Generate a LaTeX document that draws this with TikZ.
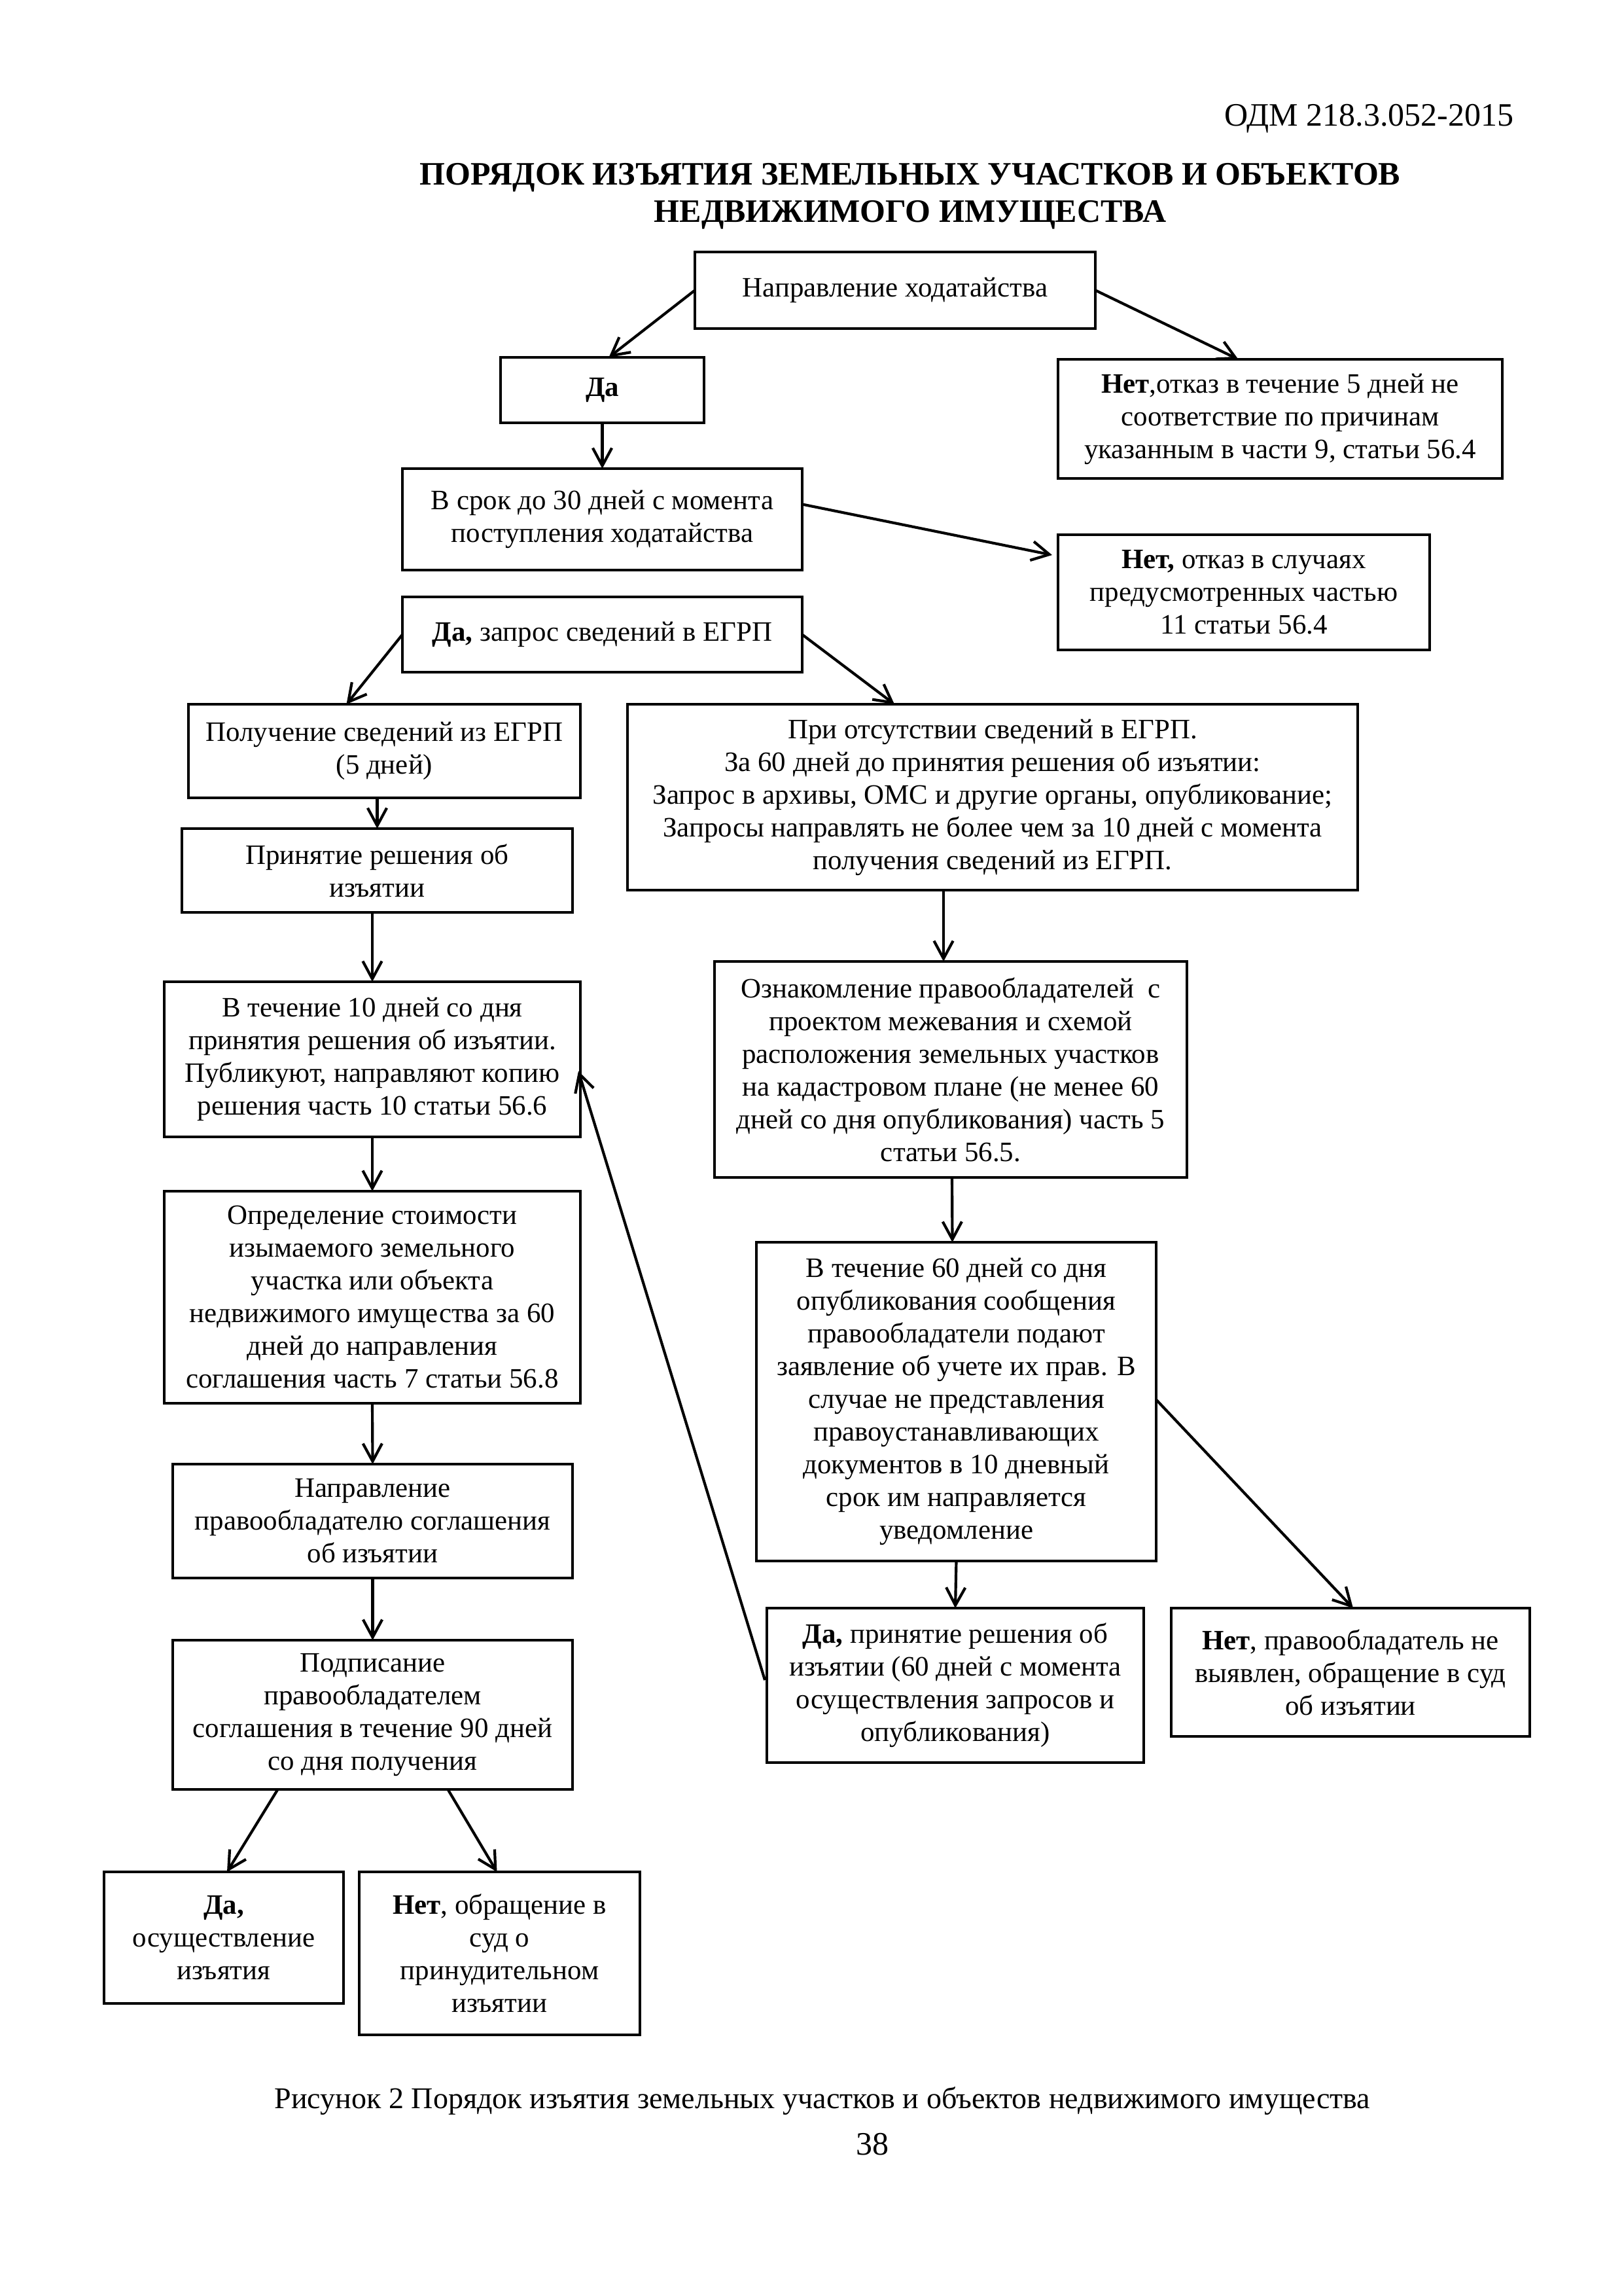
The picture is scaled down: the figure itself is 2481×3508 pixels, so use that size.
\documentclass[tikz,border=0pt]{standalone}
\usepackage{fontspec}
\setmainfont{Liberation Serif}
\usetikzlibrary{arrows.meta,calc}
\begin{document}
\begin{tikzpicture}[x=0.24pt,y=-0.24pt,
  bx/.style={draw, line width=0.8pt, inner sep=0pt, outer sep=0pt, align=center, font=\fontsize{10.3}{12}\selectfont},
  arr/.style={line width=1pt, -{Straight Barb[length=6.5pt,width=7pt]}},
  txt/.style={inner sep=0pt, font=\fontsize{12}{13.7}\selectfont}]
\useasboundingbox (0,0) rectangle (2481,3508);

% header, title, caption
\node[txt, anchor=base east] (hdr) at (2314,193) {ОДМ 218.3.052-2015};
\node[txt, anchor=base, font=\fontsize{12}{13.7}\selectfont\bfseries] (title1) at (1391,283) {ПОРЯДОК ИЗЪЯТИЯ ЗЕМЕЛЬНЫХ УЧАСТКОВ И ОБЪЕКТОВ};
\node[txt, anchor=base, font=\fontsize{12}{13.7}\selectfont\bfseries] (title2) at (1391,340) {НЕДВИЖИМОГО ИМУЩЕСТВА};
\node[txt, anchor=base, font=\fontsize{11.05}{13}\selectfont] (caption) at (1257,3221) {Рисунок 2 Порядок изъятия земельных участков и объектов недвижимого имущества};
\node[txt, anchor=base] (pagenum) at (1333,3292) {38};

% boxes
\node[bx, minimum width=146.88pt, minimum height=28.08pt] (hod) at (1368,443.5) {Направление ходатайства};
\node[bx, minimum width=74.64pt, minimum height=24pt] (da1) at (920.5,596) {\textbf{Да}};
\node[bx, minimum width=162.96pt, minimum height=43.68pt] (net1) at (1956.5,640) {\textbf{Нет},отказ в течение 5 дней не\\соответствие по причинам\\указанным в части 9, статьи 56.4};
\node[bx, minimum width=146.64pt, minimum height=37.2pt] (srok) at (920.5,793.5) {В срок до 30 дней с момента\\поступления ходатайства};
\node[bx, minimum width=136.32pt, minimum height=42.24pt] (net2) at (1901,905) {\textbf{Нет,} отказ в случаях\\предусмотренных частью\\11 статьи 56.4};
\node[bx, minimum width=146.64pt, minimum height=27.6pt] (zapros) at (920.5,969.5) {\textbf{Да,} запрос сведений в ЕГРП};
\node[bx, minimum width=143.76pt, minimum height=34.32pt] (poluch) at (587.5,1147.5) {Получение сведений из ЕГРП\\(5 дней)};
\node[bx, minimum width=143.28pt, minimum height=30.72pt] (prin) at (576.5,1330) {Принятие решения об\\изъятии};
\node[bx, minimum width=267.84pt, minimum height=68.16pt] (otsut) at (1517,1218) {При отсутствии сведений в ЕГРП.\\За 60 дней до принятия решения об изъятии:\\Запрос в архивы, ОМС и другие органы, опубликование;\\Запросы направлять не более чем за 10 дней с момента\\получения сведений из ЕГРП.};
\node[bx, minimum width=152.64pt, minimum height=56.88pt] (v10) at (569,1618.5) {В течение 10 дней со дня\\принятия решения об изъятии.\\Публикуют, направляют копию\\решения часть 10 статьи 56.6};
\node[bx, minimum width=173.28pt, minimum height=79.2pt] (oznak) at (1453,1634) {Ознакомление правообладателей~ с\\проектом межевания и схемой\\расположения земельных участков\\на кадастровом плане (не менее 60\\дней со дня опубликования) часть 5\\статьи 56.5.};
\node[bx, minimum width=152.64pt, minimum height=77.76pt] (opred) at (569,1982) {Определение стоимости\\изымаемого земельного\\участка или объекта\\недвижимого имущества за 60\\дней до направления\\соглашения часть 7 статьи 56.8};
\node[bx, minimum width=146.64pt, minimum height=116.88pt] (v60) at (1461.5,2141.5) {В течение 60 дней со дня\\опубликования сообщения\\правообладатели подают\\заявление об учете их прав. В\\случае не представления\\правоустанавливающих\\документов в 10 дневный\\срок им направляется\\уведомление};
\node[bx, minimum width=146.64pt, minimum height=41.76pt] (napr) at (569.5,2324) {Направление\\правообладателю соглашения\\об изъятии};
\node[bx, minimum width=146.64pt, minimum height=54.72pt] (podp) at (569.5,2620) {Подписание\\правообладателем\\соглашения в течение 90 дней\\со дня получения};
\node[bx, minimum width=138.24pt, minimum height=56.64pt] (daprin) at (1460,2575) {\textbf{Да,} принятие решения об\\изъятии (60 дней с момента\\осуществления запросов и\\опубликования)};
\node[bx, minimum width=131.52pt, minimum height=47.04pt] (netprav) at (2064,2555) {\textbf{Нет}, правообладатель не\\выявлен, обращение в суд\\об изъятии};
\node[bx, minimum width=87.84pt, minimum height=48.24pt] (daos) at (342,2960.5) {\textbf{Да,}\\осуществление\\изъятия};
\node[bx, minimum width=102.96pt, minimum height=59.76pt] (netsud) at (763.5,2984.5) {\textbf{Нет}, обращение в\\суд о\\принудительном\\изъятии};

% connectors
\draw[arr] (hod.west) -- ($(da1.north)+(10,0)$);
\draw[arr] (hod.east) -- ($(net1.north)+(-64,0)$);
\draw[arr] (da1.south) -- (srok.north);
\draw[arr] ($(srok.east)+(0,-23)$) -- ($(net2.west)+(-9,-57)$);
\draw[arr] (zapros.west) -- ($(poluch.north)+(-58,0)$);
\draw[arr] (zapros.east) -- ($(otsut.north)+(-150,0)$);
\draw[arr] (prin.north |- poluch.south) -- (prin.north);
\draw[arr] (v10.north |- prin.south) -- (v10.north);
\draw[arr] ($(otsut.south)+(-75,0)$) -- ($(oznak.north)+(-11,0)$);
\draw[arr] (v10.south) -- (opred.north);
\draw[arr] ($(oznak.south)+(2,0)$) -- ($(v60.north)+(-6,0)$);
\draw[arr] (opred.south) -- (napr.north);
\draw[arr] (napr.south) -- (podp.north);
\draw[arr] (v60.south) -- (daprin.north);
\draw[arr] ($(v60.east)+(0,-3)$) -- ($(netprav.north)+(4,0)$);
\draw[arr] ($(daprin.west)+(-3,-8)$) -- ($(v10.east)+(-3,18)$);
\draw[arr] ($(podp.south)+(-145,0)$) -- ($(daos.north)+(5,0)$);
\draw[arr] ($(podp.south)+(115,0)$) -- ($(netsud.north)+(-4,0)$);
\end{tikzpicture}
\end{document}
